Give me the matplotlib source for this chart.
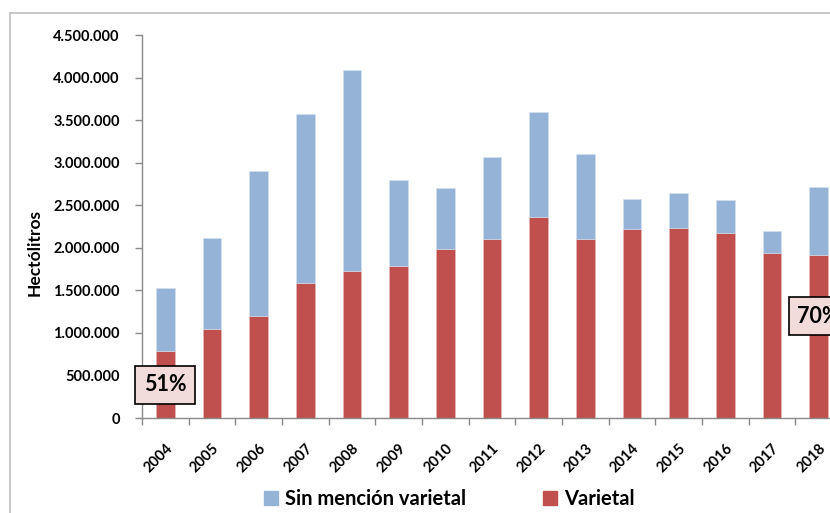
import matplotlib
matplotlib.use("Agg")
import matplotlib.pyplot as plt
from matplotlib.lines import Line2D
from matplotlib.patches import Patch
from matplotlib.ticker import FuncFormatter, FixedLocator
from matplotlib.transforms import ScaledTranslation
import numpy as np

years = ["2004", "2005", "2006", "2007", "2008", "2009", "2010", "2011",
         "2012", "2013", "2014", "2015", "2016", "2017", "2018"]
varietal = [785000, 1042000, 1202000, 1582000, 1727000, 1790000, 1982000, 2107000,
            2361000, 2107000, 2217000, 2232000, 2177000, 1942000, 1912000]
total = [1527000, 2115000, 2902000, 3571000, 4092000, 2792000, 2702000, 3063000,
         3595000, 3098000, 2573000, 2639000, 2565000, 2197000, 2718000]
sin_mencion = [t - v for t, v in zip(total, varietal)]
series_labels = ["Sin mención varietal", "Varietal"]
annot_labels = ["51%", "70%"]
annot_idx = [0, 14]
annot_y = [388000, 1198000]

FONT = "Lato"
plt.rcParams['font.family'] = [FONT, 'DejaVu Sans']

RED = "#C0504D"
BLUE = "#95B3D7"
GRAY = "#898989"

W, H = 830, 513
fig = plt.figure(figsize=(W / 100, H / 100), dpi=100)
left = 142 / W
right = 842 / W
bottom = (H - 418) / H
top = (H - 35) / H
ax = fig.add_axes([left, bottom, right - left, top - bottom])

x = np.arange(len(years))
bw = 0.4
ax.bar(x, varietal, bw, color=RED, edgecolor="#E8B8B6", linewidth=0.4, zorder=2)
ax.bar(x, sin_mencion, bw, bottom=varietal, color=BLUE, edgecolor="#D4E1F0",
       linewidth=0.4, zorder=2)

ax.set_xlim(-0.5, len(years) - 0.5)
ax.set_ylim(0, 4500000)
ax.set_yticks(np.arange(0, 4500001, 500000))
ax.yaxis.set_major_formatter(FuncFormatter(lambda v, p: f"{int(v):,}".replace(",", ".")))

ax.set_xticks(x)
ax.set_xticklabels(years, rotation=45, ha="right", va="top", rotation_mode="anchor",
                   fontsize=10.5, fontweight="bold")
off = ScaledTranslation(-4 / 100, 0, fig.dpi_scale_trans)
for lab in ax.get_xticklabels():
    lab.set_transform(lab.get_transform() + off)
ax.xaxis.set_minor_locator(FixedLocator(np.arange(-0.5, len(years), 1.0)))
ax.tick_params(axis="x", which="major", length=0, pad=17)
ax.tick_params(axis="x", which="minor", length=5, width=1, color=GRAY, direction="out")
ax.tick_params(axis="y", length=5, width=1, color=GRAY, direction="out", pad=11,
               labelsize=10.5)
for lab in ax.get_yticklabels():
    lab.set_fontweight("bold")

for s in ["top", "right"]:
    ax.spines[s].set_visible(False)
for s in ["left", "bottom"]:
    ax.spines[s].set_color(GRAY)
    ax.spines[s].set_linewidth(1)

fig.text(35 / W, 1 - 252 / H, "Hectólitros", rotation=90, ha="center", va="center",
         fontsize=12.5, fontweight="bold")

for lbl, i, yv in zip(annot_labels, annot_idx, annot_y):
    ax.text(i, yv, lbl, ha="center", va="center", fontsize=15.5, fontweight="bold",
            zorder=5, clip_on=False,
            bbox=dict(boxstyle="square,pad=0.4", facecolor="#F2DCDB",
                      edgecolor="black", linewidth=1.2))

handles = [Patch(facecolor=BLUE, edgecolor=BLUE), Patch(facecolor=RED, edgecolor=RED)]
fig.legend(handles, series_labels, loc="center", bbox_to_anchor=(449 / W, 1 - 499 / H),
           ncol=2, frameon=False, handlelength=0.7, handleheight=0.7,
           handletextpad=0.35, columnspacing=3.8,
           prop=dict(family=FONT, weight="bold", size=14.5))

# chart area border (cropped)
fig.add_artist(Line2D([10 / W, 1.0], [1 - 13 / H, 1 - 13 / H], transform=fig.transFigure,
                      color="#BFBFBF", linewidth=1.2))
fig.add_artist(Line2D([10 / W, 10 / W], [0, 1 - 13 / H], transform=fig.transFigure,
                      color="#BFBFBF", linewidth=1.2))

fig.savefig("out.png", dpi=100)
